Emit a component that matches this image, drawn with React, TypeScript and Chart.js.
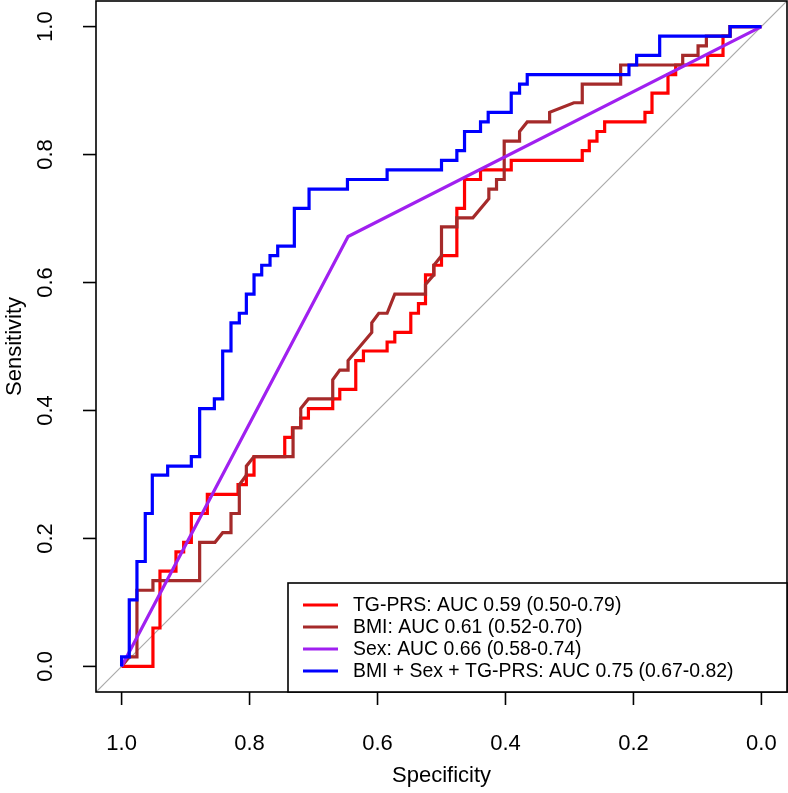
import React, { useEffect, useRef } from "react";
import { Chart, registerables } from "chart.js";

Chart.register(...registerables);

// ROC curves: [specificity, sensitivity]
const tgPrs: [number, number][] = [
  [1, 0], [0.951, 0], [0.951, 0.06], [0.94, 0.06], [0.94, 0.149], [0.915, 0.149], [0.915, 0.179],
  [0.903, 0.179], [0.903, 0.194], [0.891, 0.194], [0.891, 0.239], [0.866, 0.239], [0.866, 0.269],
  [0.818, 0.269], [0.818, 0.284], [0.805, 0.284], [0.805, 0.299], [0.793, 0.299], [0.793, 0.328],
  [0.745, 0.328], [0.745, 0.358], [0.733, 0.358], [0.733, 0.373], [0.72, 0.373], [0.72, 0.388],
  [0.708, 0.388], [0.708, 0.403], [0.67, 0.403], [0.67, 0.418], [0.659, 0.418], [0.659, 0.433],
  [0.634, 0.433], [0.634, 0.478], [0.622, 0.478], [0.622, 0.493], [0.585, 0.493], [0.585, 0.507],
  [0.573, 0.507], [0.573, 0.522], [0.548, 0.522], [0.548, 0.552], [0.536, 0.552], [0.536, 0.567],
  [0.525, 0.567], [0.525, 0.612], [0.512, 0.612], [0.512, 0.627], [0.5, 0.627], [0.5, 0.642],
  [0.476, 0.642], [0.476, 0.716], [0.464, 0.716], [0.464, 0.761], [0.439, 0.761], [0.439, 0.776],
  [0.391, 0.776], [0.391, 0.791], [0.28, 0.791], [0.28, 0.806], [0.269, 0.806], [0.269, 0.821],
  [0.257, 0.821], [0.257, 0.836], [0.245, 0.836], [0.245, 0.851], [0.182, 0.851], [0.182, 0.866],
  [0.171, 0.866], [0.171, 0.896], [0.146, 0.896], [0.146, 0.925], [0.134, 0.925], [0.134, 0.94],
  [0.084, 0.94], [0.084, 0.955], [0.06, 0.955], [0.06, 0.985], [0.049, 0.985], [0.049, 1], [0, 1],
];

const bmi: [number, number][] = [
  [1, 0], [0.988, 0.015], [0.976, 0.015], [0.976, 0.119], [0.951, 0.119], [0.951, 0.134],
  [0.878, 0.134], [0.878, 0.194], [0.854, 0.194], [0.842, 0.209], [0.829, 0.209], [0.829, 0.239],
  [0.816, 0.239], [0.816, 0.284], [0.805, 0.299], [0.805, 0.313], [0.793, 0.328], [0.732, 0.328],
  [0.732, 0.373], [0.72, 0.373], [0.72, 0.403], [0.708, 0.418], [0.67, 0.418], [0.67, 0.448],
  [0.659, 0.463], [0.646, 0.463], [0.646, 0.478], [0.609, 0.522], [0.609, 0.537], [0.598, 0.552],
  [0.585, 0.552], [0.573, 0.582], [0.525, 0.582], [0.525, 0.597], [0.512, 0.612], [0.512, 0.627],
  [0.5, 0.642], [0.5, 0.687], [0.476, 0.687], [0.476, 0.701], [0.451, 0.701], [0.426, 0.731],
  [0.426, 0.746], [0.414, 0.746], [0.414, 0.761], [0.402, 0.761], [0.402, 0.821], [0.378, 0.821],
  [0.378, 0.836], [0.366, 0.851], [0.331, 0.851], [0.331, 0.866], [0.293, 0.881], [0.28, 0.881],
  [0.28, 0.91], [0.22, 0.91], [0.22, 0.94], [0.123, 0.94], [0.123, 0.955], [0.099, 0.955],
  [0.099, 0.97], [0.086, 0.97], [0.086, 0.985], [0.049, 0.985], [0.049, 1], [0, 1],
];

const sex: [number, number][] = [
  [1, 0], [0.646, 0.672], [0, 1],
];

const combined: [number, number][] = [
  [1, 0], [1, 0.015], [0.988, 0.015], [0.988, 0.104], [0.976, 0.104], [0.976, 0.164], [0.963, 0.164],
  [0.963, 0.239], [0.952, 0.239], [0.952, 0.299], [0.928, 0.299], [0.928, 0.313], [0.891, 0.313],
  [0.891, 0.328], [0.878, 0.328], [0.878, 0.403], [0.855, 0.403], [0.855, 0.418], [0.842, 0.418],
  [0.842, 0.493], [0.829, 0.493], [0.829, 0.537], [0.816, 0.537], [0.816, 0.552], [0.805, 0.552],
  [0.805, 0.582], [0.793, 0.582], [0.793, 0.612], [0.781, 0.612], [0.781, 0.627], [0.768, 0.627],
  [0.768, 0.642], [0.756, 0.642], [0.756, 0.657], [0.73, 0.657], [0.73, 0.716], [0.707, 0.716],
  [0.707, 0.746], [0.647, 0.746], [0.647, 0.761], [0.585, 0.761], [0.585, 0.776], [0.5, 0.776],
  [0.5, 0.791], [0.476, 0.791], [0.476, 0.806], [0.464, 0.806], [0.464, 0.836], [0.439, 0.836],
  [0.439, 0.851], [0.427, 0.851], [0.427, 0.866], [0.391, 0.866], [0.391, 0.896], [0.378, 0.896],
  [0.378, 0.91], [0.366, 0.91], [0.366, 0.925], [0.207, 0.925], [0.207, 0.94], [0.195, 0.94],
  [0.195, 0.955], [0.159, 0.955], [0.159, 0.985], [0.049, 0.985], [0.049, 1], [0, 1],
];

const chanceLine: [number, number][] = [[1.04, -0.04], [-0.04, 1.04]];

const seriesLabels = [
  "TG-PRS: AUC 0.59 (0.50-0.79)",
  "BMI: AUC 0.61 (0.52-0.70)",
  "Sex: AUC 0.66 (0.58-0.74)",
  "BMI + Sex + TG-PRS: AUC 0.75 (0.67-0.82)",
];
const seriesColors = ["#FF0000", "#A52A2A", "#A020F0", "#0000FF"];

const xTicks = [1.0, 0.8, 0.6, 0.4, 0.2, 0.0];
const yTicks = [0.0, 0.2, 0.4, 0.6, 0.8, 1.0];
const xTitle = "Specificity";
const yTitle = "Sensitivity";

const FONT = '"Liberation Sans", Arimo, Arial, Helvetica, sans-serif';

const toPts = (arr: [number, number][]) => arr.map(([x, y]) => ({ x, y }));

const rAxesPlugin = {
  id: "rAxes",
  afterDraw(chart: any) {
    const { ctx, chartArea, scales } = chart;
    const xs = scales.x;
    const ys = scales.y;
    const { left, right, top, bottom } = chartArea;
    ctx.save();
    ctx.strokeStyle = "#000";
    ctx.fillStyle = "#000";
    ctx.lineWidth = 1.6;
    ctx.strokeRect(left, top, right - left, bottom - top);

    // x axis ticks + labels
    ctx.font = `22px ${FONT}`;
    ctx.textAlign = "center";
    ctx.textBaseline = "middle";
    for (const v of xTicks) {
      const px = xs.getPixelForValue(v);
      ctx.beginPath();
      ctx.moveTo(px, bottom);
      ctx.lineTo(px, bottom + 13);
      ctx.stroke();
      ctx.fillText(v.toFixed(1), px, bottom + 52);
    }
    // y axis ticks + labels (rotated)
    for (const v of yTicks) {
      const py = ys.getPixelForValue(v);
      ctx.beginPath();
      ctx.moveTo(left, py);
      ctx.lineTo(left - 13, py);
      ctx.stroke();
      ctx.save();
      ctx.translate(left - 50, py);
      ctx.rotate(-Math.PI / 2);
      ctx.fillText(v.toFixed(1), 0, 0);
      ctx.restore();
    }
    // titles
    ctx.fillText(xTitle, (left + right) / 2, bottom + 84);
    ctx.save();
    ctx.translate(15, (top + bottom) / 2);
    ctx.rotate(-Math.PI / 2);
    ctx.fillText(yTitle, 0, 0);
    ctx.restore();

    // legend box (bottom right inside plot)
    const lx = 288;
    const ly = 583;
    ctx.fillStyle = "#fff";
    ctx.fillRect(lx, ly, right - lx, bottom - ly);
    ctx.lineWidth = 1.6;
    ctx.strokeStyle = "#000";
    ctx.strokeRect(lx, ly, right - lx, bottom - ly);
    ctx.font = `19.4px ${FONT}`;
    ctx.textAlign = "left";
    ctx.textBaseline = "middle";
    const rowY = [605, 627, 649, 671];
    seriesLabels.forEach((lab, i) => {
      ctx.strokeStyle = seriesColors[i];
      ctx.lineWidth = 3.2;
      ctx.beginPath();
      ctx.moveTo(303, rowY[i]);
      ctx.lineTo(338, rowY[i]);
      ctx.stroke();
      ctx.fillStyle = "#000";
      ctx.fillText(lab, 353, rowY[i] + 1);
    });
    ctx.restore();
  },
};

export default function App() {
  const ref = useRef<HTMLCanvasElement | null>(null);
  useEffect(() => {
    document.body.style.margin = "0";
    const canvas = ref.current;
    if (!canvas) return;
    const lineDs = (label: string, data: [number, number][], color: string, order: number, width = 3.2) => ({
      label,
      data: toPts(data),
      borderColor: color,
      backgroundColor: color,
      borderWidth: width,
      pointRadius: 0,
      tension: 0,
      fill: false,
      order,
      borderJoinStyle: "miter" as const,
    });
    const chart = new Chart(canvas, {
      type: "line",
      data: {
        datasets: [
          lineDs("chance", chanceLine, "#A9A9A9", 10, 1.2),
          lineDs(seriesLabels[0], tgPrs, seriesColors[0], 4),
          lineDs(seriesLabels[1], bmi, seriesColors[1], 3),
          lineDs(seriesLabels[2], sex, seriesColors[2], 2),
          lineDs(seriesLabels[3], combined, seriesColors[3], 1),
        ],
      },
      options: {
        responsive: false,
        animation: false,
        devicePixelRatio: 1,
        layout: { padding: { left: 96, top: 1, right: 1, bottom: 101 } },
        plugins: { legend: { display: false }, tooltip: { enabled: false } },
        scales: {
          x: { type: "linear", reverse: true, min: -0.04, max: 1.04, display: false },
          y: { type: "linear", min: -0.04, max: 1.04, display: false },
        },
      },
      plugins: [rAxesPlugin],
    });
    return () => chart.destroy();
  }, []);
  return (
    <div style={{ position: "absolute", left: 0, top: 0, width: 788, height: 793, background: "#fff" }}>
      <canvas ref={ref} width={788} height={793} />
    </div>
  );
}
